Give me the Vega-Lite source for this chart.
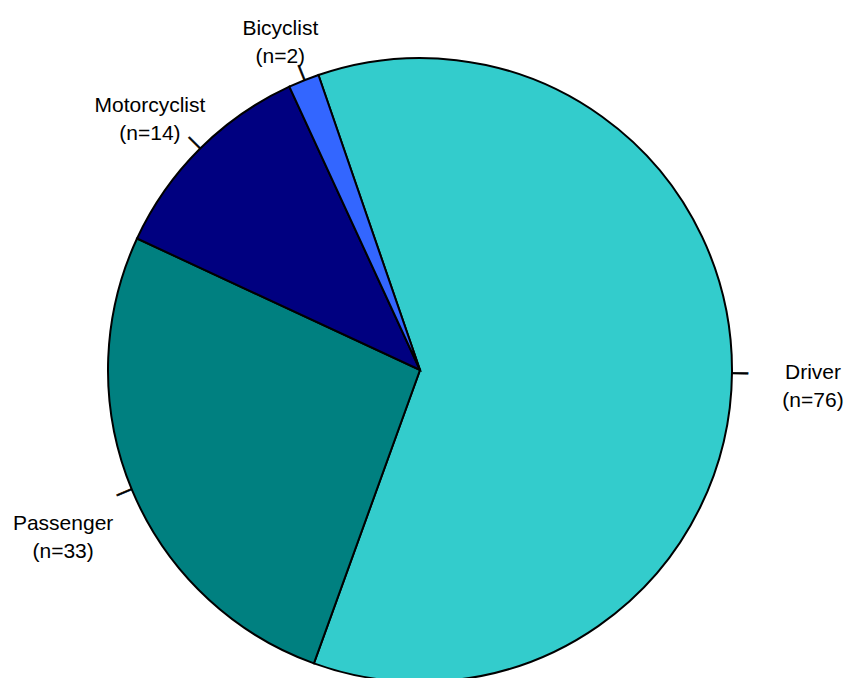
{
  "$schema": "https://vega.github.io/schema/vega-lite/v6.json",
  "width": 840,
  "height": 624,
  "autosize": {"type": "none"},
  "padding": {"left": 0, "top": 58, "right": 8, "bottom": 0},
  "background": "white",
  "config": {"view": {"stroke": null}},
  "data": {
    "values": [
      {"category": "Driver", "count": 76},
      {"category": "Passenger", "count": 33},
      {"category": "Motorcyclist", "count": 14},
      {"category": "Bicyclist", "count": 2}
    ]
  },
  "encoding": {
    "theta": {"field": "count", "type": "quantitative", "stack": true, "scale": {"range": [-0.3316, 5.9516]}},
    "order": {"field": "count", "type": "quantitative", "sort": "descending"}
  },
  "layer": [
    {
      "mark": {"type": "arc", "outerRadius": 312, "stroke": "black", "strokeWidth": 2},
      "encoding": {
        "color": {
          "field": "category",
          "type": "nominal",
          "scale": {
            "domain": ["Driver", "Passenger", "Motorcyclist", "Bicyclist"],
            "range": ["#33CCCC", "#008080", "#000080", "#3366FF"]
          },
          "legend": null
        }
      }
    },
    {
      "mark": {"type": "text", "radius": 320, "text": "—", "font": "Liberation Sans", "fontSize": 16, "fontWeight": "bold", "baseline": "middle", "align": "center", "color": "black", "stroke": "black", "strokeWidth": 0.6},
      "encoding": {
        "angle": {"field": "count", "type": "quantitative", "scale": {"domain": [2, 14, 33, 76], "range": [248.12, 225.08, 157.4, 0.44]}}
      }
    },
    {
      "mark": {
        "type": "text",
        "radius": 340,
        "font": "Liberation Sans",
        "fontSize": 21,
        "lineHeight": 28,
        "align": "center",
        "baseline": "alphabetic",
        "color": "black",
        "text": {"expr": "[datum.category, '(n=' + datum.count + ')']"},
        "dx": {"expr": "datum.category == 'Driver' ? 53 : datum.category == 'Passenger' ? -43 : datum.category == 'Motorcyclist' ? -30 : -13"},
        "dy": {"expr": "datum.category == 'Driver' ? 6 : datum.category == 'Passenger' ? 29 : datum.category == 'Motorcyclist' ? -17 : -19"}
      }
    }
  ]
}
